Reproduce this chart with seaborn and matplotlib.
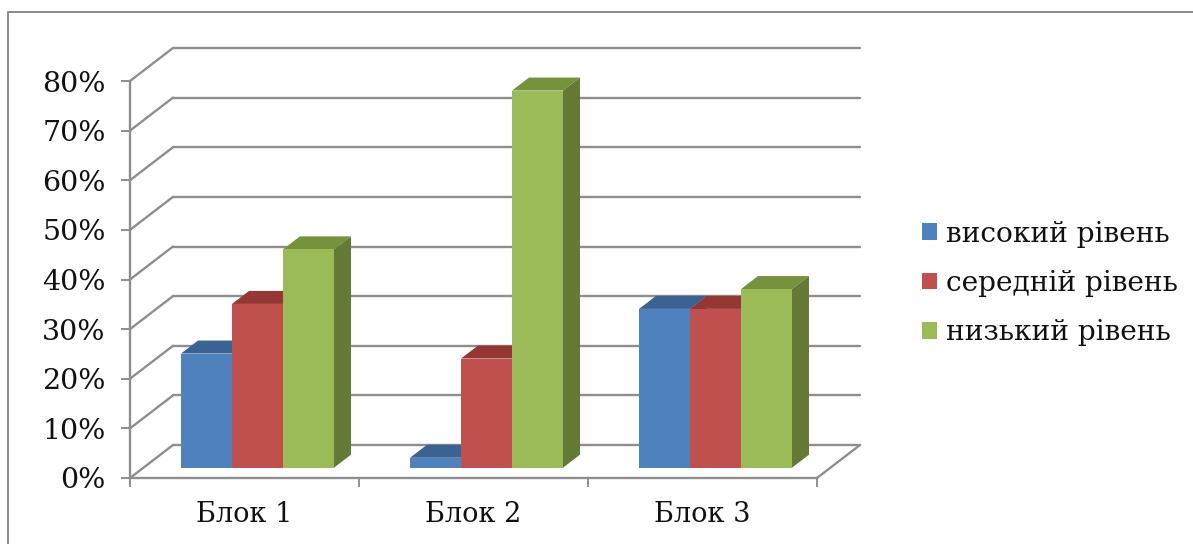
import matplotlib
matplotlib.use("Agg")
import matplotlib.pyplot as plt
from matplotlib.lines import Line2D
from matplotlib.patches import Polygon
from matplotlib.transforms import Affine2D
import pandas as pd
import seaborn as sns

blocks = ["Блок 1", "Блок 2", "Блок 3"]
levels = ["високий рівень", "середній рівень", "низький рівень"]
high = [23, 2, 32]
medium = [33, 22, 32]
low = [44, 76, 36]
y_ticks = [0, 10, 20, 30, 40, 50, 60, 70, 80]

front_colors = ["#4f81bd", "#c0504d", "#9bbb59"]
top_colors = ["#3a6292", "#953735", "#76923c"]
side_colors = ["#3a6292", "#8a3432", "#647a36"]
grid_color = "#8e8e8e"

W, H = 1193, 544
DPI = 100

sns.set_theme(style="white")
plt.rcParams["font.family"] = ["DejaVu Serif"]

frame = pd.DataFrame({
    "block": blocks * 3,
    "level": [levels[0]] * 3 + [levels[1]] * 3 + [levels[2]] * 3,
    "share": high + medium + low,
})

fig = plt.figure(figsize=(W / DPI, H / DPI), dpi=DPI)
ax = fig.add_axes([130 / W, 1 - 478 / H, (817 - 130) / W, (478 - 81) / H])

sns.barplot(data=frame, x="block", y="share", hue="level", hue_order=levels,
            palette=front_colors, width=0.668, gap=0, saturation=1, ax=ax,
            legend=False, linewidth=0, zorder=4)
ax.set_xlim(-0.5, 2.5)
ax.set_ylim(0, 80)
ax.set_xlabel("")
ax.set_ylabel("")

# Oblique projection offsets, in pixels
wall = Affine2D().translate(43, 33)
floor_shift = Affine2D().translate(13, 10.3)
depth_x, depth_y = 17, 13

# Back wall gridlines and the slanted lines on the side wall
for tick in y_ticks:
    ax.plot([-0.5, 2.5], [tick, tick], color=grid_color, lw=1.7, clip_on=False,
            transform=ax.transData + wall, zorder=1)
    x0, y0 = ax.transData.transform((-0.5, tick))
    ax.add_line(Line2D([x0, x0 + 43], [y0, y0 + 33], color=grid_color, lw=1.7,
                       transform=None, clip_on=False, zorder=1))
x1, y1 = ax.transData.transform((2.5, 0))
ax.add_line(Line2D([x1, x1 + 43], [y1, y1 + 33], color=grid_color, lw=1.7,
                   transform=None, clip_on=False, zorder=1))

# Bars: shift the front faces onto the floor and add the top and side faces
for container, top_c, side_c in zip(ax.containers, top_colors, side_colors):
    for bar in container:
        bar.set_transform(ax.transData + floor_shift)
        bar.set_clip_on(False)
        (xa, ya), (xb, yb) = (ax.transData + floor_shift).transform(
            [(bar.get_x(), 0), (bar.get_x() + bar.get_width(), bar.get_height())])
        ax.add_patch(Polygon([(xa, yb), (xb, yb), (xb + depth_x, yb + depth_y),
                              (xa + depth_x, yb + depth_y)], closed=True,
                             transform=None, facecolor=top_c, edgecolor="none",
                             clip_on=False, zorder=3))
        ax.add_patch(Polygon([(xb, ya), (xb, yb), (xb + depth_x, yb + depth_y),
                              (xb + depth_x, ya + depth_y)], closed=True,
                             transform=None, facecolor=side_c, edgecolor="none",
                             clip_on=False, zorder=3))

# Axes
for name in ("top", "right"):
    ax.spines[name].set_visible(False)
for name in ("left", "bottom"):
    ax.spines[name].set_color(grid_color)
    ax.spines[name].set_linewidth(1.7)
ax.set_yticks(y_ticks)
ax.set_yticklabels([f"{t}%" for t in y_ticks])
ax.set_xticks([-0.5, 0.5, 1.5, 2.5], minor=False)
ax.set_xticklabels([])
ax.tick_params(axis="both", which="major", length=6.5, width=1.4, color=grid_color,
               left=True, bottom=True)
ax.tick_params(axis="y", labelsize=20.5, labelcolor="#111111", pad=11)
for i, block in enumerate(blocks):
    ax.annotate(block, xy=(i, 0), xytext=(0, -26), textcoords="offset points",
                ha="center", va="center", fontsize=19.5, color="#111111",
                annotation_clip=False)

# Legend
handles = [plt.Rectangle((0, 0), 1, 1, facecolor=c, edgecolor="none") for c in front_colors]
fig.legend(handles, levels, loc="center left", bbox_to_anchor=(922 / W, 1 - 283.5 / H),
           frameon=False, fontsize=20.2, handlelength=0.54, handleheight=0.54,
           handletextpad=0.3, labelspacing=0.8, borderpad=0, borderaxespad=0,
           labelcolor="#111111")

# Outer chart border
fig.add_artist(Line2D([8 / W, 8 / W, 1], [0, 1 - 12 / H, 1 - 12 / H],
                      color="#8a8a8a", lw=1.4, transform=fig.transFigure))

fig.savefig("out.png", dpi=DPI, facecolor="white")
